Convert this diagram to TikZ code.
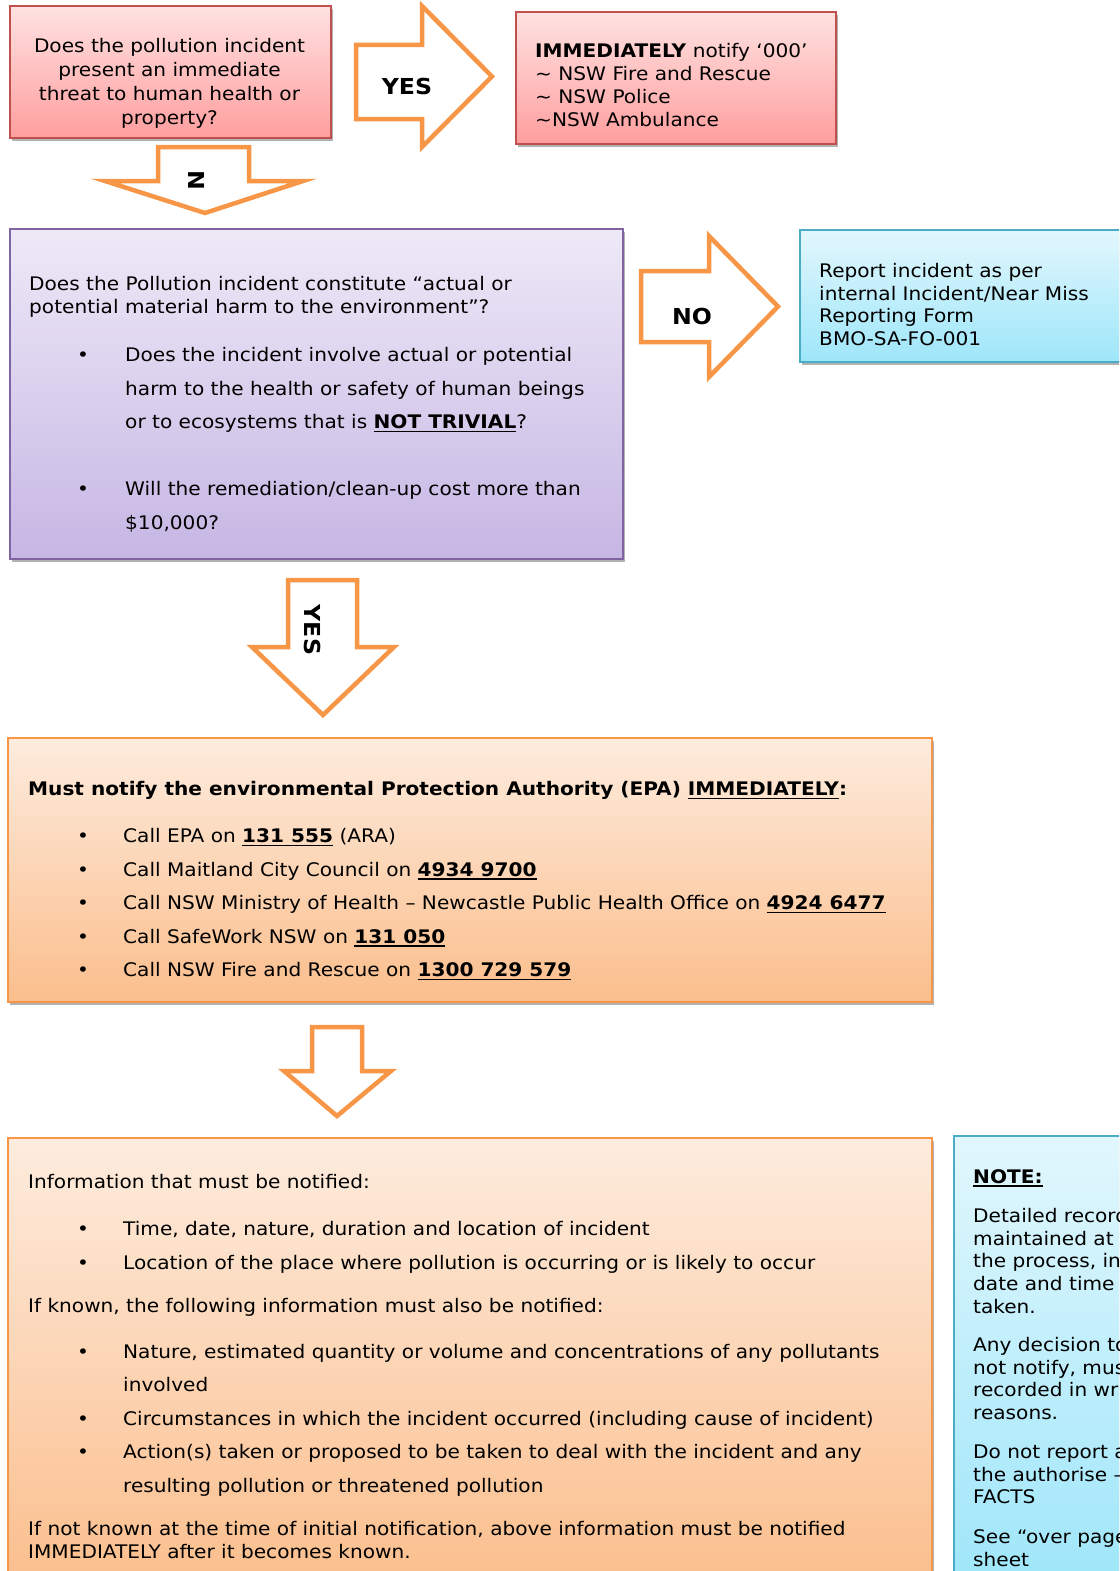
\documentclass[tikz,border=0pt]{standalone}
\usepackage{fontspec}
\setmainfont[FakeStretch=1.075]{DejaVu Sans}
\usetikzlibrary{shadows}
\definecolor{redtop}{RGB}{255,226,226}
\definecolor{redbot}{RGB}{255,158,158}
\definecolor{redline}{RGB}{192,80,77}
\definecolor{purtop}{RGB}{238,233,247}
\definecolor{purbot}{RGB}{198,182,228}
\definecolor{purline}{RGB}{128,100,162}
\definecolor{cyantop}{RGB}{226,247,253}
\definecolor{cyanbot}{RGB}{158,230,250}
\definecolor{cyanline}{RGB}{75,172,198}
\definecolor{orgtop}{RGB}{253,236,222}
\definecolor{orgbot}{RGB}{251,190,140}
\definecolor{orgline}{RGB}{247,150,70}
\newcommand\myul[1]{\setbox0\hbox{#1}\rlap{\rule[-3.4pt]{\wd0}{1.6pt}}\box0\relax}
\newcommand\blt[1]{\makebox[#1][l]{•}}
\tikzset{
  box/.style={draw, line width=1.8pt, rectangle, inner sep=0pt, anchor=north west,
    drop shadow={shadow xshift=2.5pt, shadow yshift=-3.5pt, opacity=0.3, fill=black}},
  redbox/.style={box, draw=redline, top color=redtop, bottom color=redbot},
  purbox/.style={box, draw=purline, top color=purtop, bottom color=purbot},
  cyanbox/.style={box, draw=cyanline, top color=cyantop, bottom color=cyanbot},
  orgbox/.style={box, draw=orgline, top color=orgtop, bottom color=orgbot},
  txt/.style={anchor=north west, inner sep=0pt, align=left},
  barrow/.style={draw=orgline, fill=white, line width=4.5pt, line join=miter},
  lab/.style={inner sep=0pt, font=\fontsize{22}{26}\bfseries\selectfont}
}
\begin{document}
\begin{tikzpicture}[x=1pt,y=-1pt]
\useasboundingbox (0,0) rectangle (1119,1571);
\begin{scope}
\clip (0,0) rectangle (1119,1571);
% boxes
\node[redbox, minimum width=321pt, minimum height=132pt] (q1) at (9,5) {};
\node[redbox, minimum width=320pt, minimum height=132pt] (call) at (515,11) {};
\node[purbox, minimum width=613pt, minimum height=330pt] (q2) at (9,228) {};
\node[cyanbox, minimum width=330pt, minimum height=132pt] (rep) at (799,229) {};
\node[orgbox, minimum width=924pt, minimum height=264pt] (epa) at (7,737) {};
\node[orgbox, minimum width=924pt, minimum height=450pt] (info) at (7,1137) {};
\node[cyanbox, minimum width=180pt, minimum height=450pt] (note) at (953,1135) {};

% block arrows
\draw[barrow] (356,45) -- (422,45) -- (422,6) -- (492,76.5) -- (422,147) -- (422,119) -- (356,119) -- cycle;
\draw[barrow] (158,147) -- (249,147) -- (249,181) -- (303,181) -- (205,213) -- (105,181) -- (158,181) -- cycle;
\draw[barrow] (641,271) -- (709,271) -- (709,236) -- (778,306.5) -- (709,377) -- (709,342) -- (641,342) -- cycle;
\draw[barrow] (288,580) -- (357,580) -- (357,647) -- (394,647) -- (323,715) -- (252,647) -- (288,647) -- cycle;
\draw[barrow] (312,1027) -- (362,1027) -- (362,1071) -- (391,1071) -- (337,1116) -- (284,1071) -- (312,1071) -- cycle;

% arrow labels
\node[lab] (yes1) at (407,86) {YES};
\node[lab, rotate=-90] (n1) at (197,180) {N};
\node[lab] (no1) at (692,316) {NO};
\node[lab, rotate=-90] (yes2) at (313,630) {YES};

% texts
\node[txt, anchor=north, align=center, font=\fontsize{18.7}{24}\selectfont] (q1t) at (169.5,38.5)
  {Does the pollution incident\\present an immediate\\threat to human health or\\property?};
\node[txt, font=\fontsize{18.7}{22.7}\selectfont] (callt) at (535,43.5)
  {\textbf{IMMEDIATELY} notify ‘000’\\\textasciitilde{} NSW Fire and Rescue\\\textasciitilde{} NSW Police\\\textasciitilde NSW Ambulance};
\node[txt, font=\fontsize{18.7}{22.4}\selectfont] (rept) at (819,263.5)
  {Report incident as per\\internal Incident/Near Miss\\Reporting Form\\BMO-SA-FO-001};
\node[txt, font=\fontsize{18.7}{23}\selectfont] (q2t) at (29,276.5)
  {Does the Pollution incident constitute “actual or\\potential material harm to the environment”?};
\node[txt, font=\fontsize{18.7}{33.5}\selectfont] (q2l) at (77,347.5)
  {\blt{48pt}Does the incident involve actual or potential\\
   \hspace*{48pt}harm to the health or safety of human beings\\
   \hspace*{48pt}or to ecosystems that is \myul{\textbf{NOT TRIVIAL}}?\\[33.5pt]
   \blt{48pt}Will the remediation/clean-up cost more than\\
   \hspace*{48pt}\$10,000?};
\node[txt, font=\fontsize{18.7}{22.7}\selectfont] (epat) at (28,781.5)
  {\textbf{Must notify the environmental Protection Authority (EPA) \myul{IMMEDIATELY}:}};
\node[txt, font=\fontsize{18.7}{33.5}\selectfont] (epal) at (77,828.5)
  {\blt{46pt}Call EPA on \myul{\textbf{131 555}} (ARA)\\
   \blt{46pt}Call Maitland City Council on \myul{\textbf{4934 9700}}\\
   \blt{46pt}Call NSW Ministry of Health – Newcastle Public Health Office on \myul{\textbf{4924 6477}}\\
   \blt{46pt}Call SafeWork NSW on \myul{\textbf{131 050}}\\
   \blt{46pt}Call NSW Fire and Rescue on \myul{\textbf{1300 729 579}}};
\node[txt, font=\fontsize{18.7}{22.7}\selectfont] (infot) at (28,1174)
  {Information that must be notified:\\[24.3pt]
   \hspace*{49pt}\blt{46pt}Time, date, nature, duration and location of incident\\[11.3pt]
   \hspace*{49pt}\blt{46pt}Location of the place where pollution is occurring or is likely to occur\\[20.3pt]
   If known, the following information must also be notified:\\[23.3pt]
   \hspace*{49pt}\blt{46pt}Nature, estimated quantity or volume and concentrations of any pollutants\\[10.8pt]
   \hspace*{95pt}involved\\[10.8pt]
   \hspace*{49pt}\blt{46pt}Circumstances in which the incident occurred (including cause of incident)\\[10.8pt]
   \hspace*{49pt}\blt{46pt}Action(s) taken or proposed to be taken to deal with the incident and any\\[10.8pt]
   \hspace*{95pt}resulting pollution or threatened pollution\\[20.3pt]
   If not known at the time of initial notification, above information must be notified\\
   IMMEDIATELY after it becomes known.};
\node[txt, font=\fontsize{18.7}{22.7}\selectfont] (notet) at (973,1169.5)
  {\myul{\textbf{NOTE:}}\\[16.3pt]
   Detailed records must be\\
   maintained at each step of\\
   the process, including the\\
   date and time actions are\\
   taken.\\[15.3pt]
   Any decision to notify or\\
   not notify, must be\\
   recorded in writing with\\
   reasons.\\[16.3pt]
   Do not report assumptions to\\
   the authorise – only\\
   FACTS\\[17.3pt]
   See “over page” information\\
   sheet};
\end{scope}
\end{tikzpicture}
\end{document}
